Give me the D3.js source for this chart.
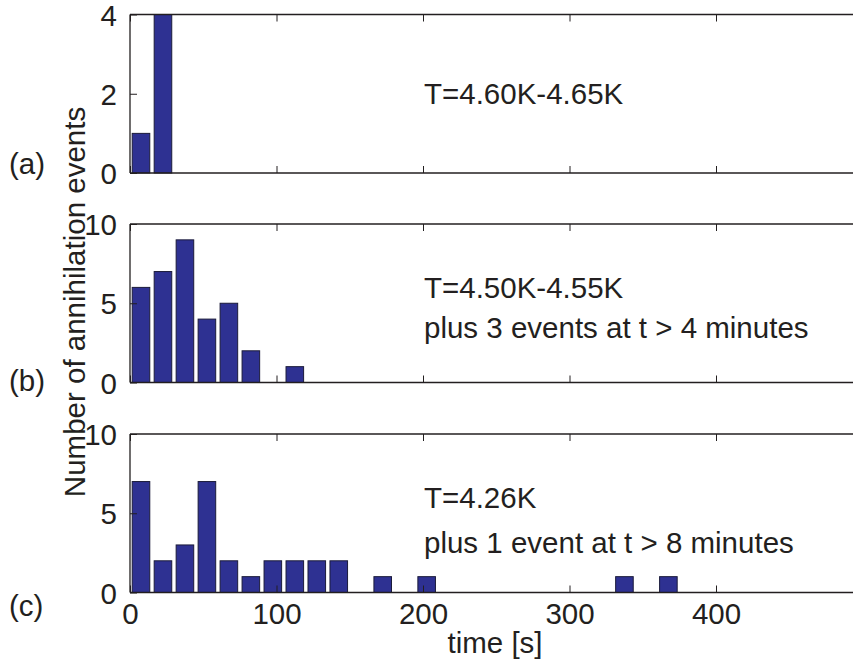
<!DOCTYPE html>
<html>
<head>
<meta charset="utf-8">
<script src="https://cdn.jsdelivr.net/npm/d3@7"></script>
<style>
  html, body { margin: 0; padding: 0; background: #fff; }
  svg { display: block; }
  text { font-family: "Liberation Sans", Arial, Helvetica, sans-serif; fill: #231f20; }
</style>
</head>
<body>
<svg id="chart" width="853" height="664"></svg>
<script>
// Histogram bin centres (15 s wide bins)
const binCenters = [7.5, 22.5, 37.5, 52.5, 67.5, 82.5, 97.5, 112.5, 127.5, 142.5,
  157.5, 172.5, 187.5, 202.5, 217.5, 232.5, 247.5, 262.5, 277.5, 292.5,
  307.5, 322.5, 337.5, 352.5, 367.5];
const binWidth = 15;

// Annihilation event counts per bin
const countsA = [1, 4, 0, 0, 0, 0, 0, 0, 0, 0, 0, 0, 0, 0, 0, 0, 0, 0, 0, 0, 0, 0, 0, 0, 0];
const countsB = [6, 7, 9, 4, 5, 2, 0, 1, 0, 0, 0, 0, 0, 0, 0, 0, 0, 0, 0, 0, 0, 0, 0, 0, 0];
const countsC = [7, 2, 3, 7, 2, 1, 2, 2, 2, 2, 0, 1, 0, 1, 0, 0, 0, 0, 0, 0, 0, 0, 1, 0, 1];

const xTicks = [0, 100, 200, 300, 400];
const yTicksA = [0, 2, 4];
const yTicksBC = [0, 5, 10];

const panelLabels = ["(a)", "(b)", "(c)"];
const panelNotes = [
  ["T=4.60K-4.65K"],
  ["T=4.50K-4.55K", "plus 3 events at t > 4 minutes"],
  ["T=4.26K", "plus 1 event at t > 8 minutes"]
];

const panels = [
  { counts: countsA, yMax: 4, yTicks: yTicksA, top: 14.5, noteY: [104], labelY: 174 },
  { counts: countsB, yMax: 10, yTicks: yTicksBC, top: 224, noteY: [298, 338], labelY: 391 },
  { counts: countsC, yMax: 10, yTicks: yTicksBC, top: 434, noteY: [508, 553], labelY: 616 }
];

const svg = d3.select("#chart");
const left = 130, right = 862.5, panelH = 158.5;
const fontSize = 29.5;
const tickLen = 7;
const axisColor = "#231f20";
const barFill = "#2e3192";

const x = d3.scaleLinear().domain([0, 500]).range([left, right]);

panels.forEach((p, i) => {
  const y = d3.scaleLinear().domain([0, p.yMax]).range([p.top + panelH, p.top]);
  const g = svg.append("g");

  // bars
  const data = binCenters.map((c, k) => ({ c, v: p.counts[k] })).filter(d => d.v > 0);
  g.selectAll("rect.bar").data(data).enter().append("rect")
    .attr("class", "bar")
    .attr("x", d => x(d.c - binWidth * 0.4))
    .attr("width", d => x(d.c + binWidth * 0.4) - x(d.c - binWidth * 0.4))
    .attr("y", d => y(d.v))
    .attr("height", d => y(0) - y(d.v))
    .attr("fill", barFill)
    .attr("stroke", "#1b1b3a")
    .attr("stroke-width", 1);

  // box frame
  g.append("line").attr("x1", left).attr("x2", right).attr("y1", p.top).attr("y2", p.top)
    .attr("stroke", axisColor).attr("stroke-width", 1.3);
  g.append("line").attr("x1", left).attr("x2", right).attr("y1", p.top + panelH).attr("y2", p.top + panelH)
    .attr("stroke", axisColor).attr("stroke-width", 1.3);
  g.append("line").attr("x1", left).attr("x2", left).attr("y1", p.top).attr("y2", p.top + panelH)
    .attr("stroke", axisColor).attr("stroke-width", 1.3);

  // bottom axis (inward ticks), labels only on the last panel
  const xAxisB = d3.axisBottom(x).tickValues(xTicks).tickSizeInner(-tickLen).tickSizeOuter(0)
    .tickFormat(i === 2 ? d3.format("d") : () => "");
  const gx = g.append("g").attr("transform", `translate(0,${p.top + panelH})`).call(xAxisB);
  gx.select(".domain").remove();
  gx.selectAll(".tick line").attr("stroke", axisColor);
  gx.selectAll(".tick text").attr("font-size", fontSize).attr("dy", 0).attr("y", 31)
    .attr("font-family", "Liberation Sans, Arial, sans-serif").attr("fill", axisColor);

  // top mirrored ticks
  const xAxisT = d3.axisTop(x).tickValues(xTicks).tickSizeInner(-tickLen).tickSizeOuter(0).tickFormat(() => "");
  const gt = g.append("g").attr("transform", `translate(0,${p.top})`).call(xAxisT);
  gt.select(".domain").remove();
  gt.selectAll(".tick line").attr("stroke", axisColor);

  // left axis
  const yAxis = d3.axisLeft(y).tickValues(p.yTicks).tickSizeInner(-tickLen).tickSizeOuter(0)
    .tickPadding(6 + tickLen).tickFormat(d3.format("d"));
  const gy = g.append("g").attr("transform", `translate(${left},0)`).call(yAxis);
  gy.select(".domain").remove();
  gy.selectAll(".tick line").attr("stroke", axisColor);
  gy.selectAll(".tick text").attr("font-size", fontSize).attr("dy", "0.36em")
    .attr("font-family", "Liberation Sans, Arial, sans-serif").attr("fill", axisColor);

  // annotations
  panelNotes[i].forEach((t, k) => {
    svg.append("text").attr("x", 424).attr("y", p.noteY[k])
      .attr("font-size", fontSize).text(t);
  });

  // panel letter
  svg.append("text").attr("x", 9).attr("y", p.labelY).attr("font-size", fontSize).text(panelLabels[i]);
});

// axis titles
svg.append("text").attr("x", 495).attr("y", 653).attr("text-anchor", "middle")
  .attr("font-size", fontSize).text("time [s]");
svg.append("text").attr("transform", "translate(85,302) rotate(-90)").attr("text-anchor", "middle")
  .attr("font-size", fontSize).text("Number of annihilation events");
</script>
</body>
</html>
